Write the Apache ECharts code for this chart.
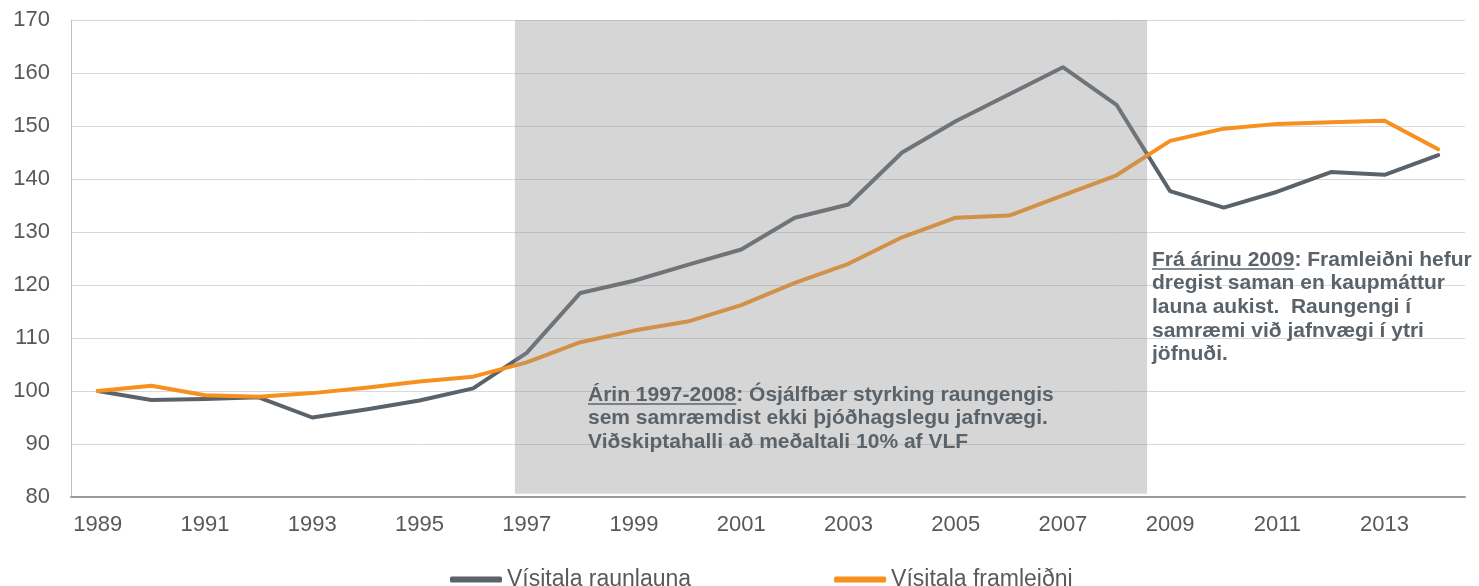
<!DOCTYPE html>
<html>
<head>
<meta charset="utf-8">
<script src="https://cdn.jsdelivr.net/npm/echarts@6/dist/echarts.min.js"></script>
<style>
  html, body { margin: 0; padding: 0; background: #fff; }
  #chart { width: 1479px; height: 586px; }
</style>
</head>
<body>
<div id="chart"></div>
<script>
// years on the x axis
var years = [];
for (var y = 1989; y <= 2014; y++) years.push(String(y));

// Vísitala raunlauna (grey)
var raunlaun = [100, 98.3, 98.5, 98.8, 95.0, 96.5, 98.2, 100.5, 107.2, 118.5,
  120.8, 123.8, 126.7, 132.7, 135.2, 145.0, 150.9, 156.0, 161.1, 154.0,
  137.7, 134.6, 137.6, 141.3, 140.8, 144.5];

// Vísitala framleiðni (orange)
var framleidni = [100, 101.0, 99.2, 98.9, 99.6, 100.6, 101.8, 102.7, 105.4, 109.2,
  111.4, 113.1, 116.2, 120.4, 124.0, 129.0, 132.7, 133.1, 136.9, 140.7,
  147.2, 149.5, 150.4, 150.7, 151.0, 145.6];

// shaded period, in fractional years
var shadeFrom = 1996.78;
var shadeTo = 2008.57;

var note1Head = 'Árin 1997-2008';
var note1 = note1Head + ': Ósjálfbær styrking raungengis\nsem samræmdist ekki þjóðhagslegu jafnvægi.\nViðskiptahalli að meðaltali 10% af VLF';
var note2Head = 'Frá árinu 2009';
var note2 = note2Head + ': Framleiðni hefur\ndregist saman en kaupmáttur\nlauna aukist.  Raungengi í\nsamræmi við jafnvægi í ytri\njöfnuði.';

var txtColor = '#5b636a';
var noteFont = 'bold 21px "Liberation Sans", Arial, sans-serif';

function textWidth(str, font) {
  var c = document.createElement('canvas').getContext('2d');
  c.font = font;
  return c.measureText(str).width;
}

function note(text, head, left, top) {
  var w = textWidth(head, noteFont);
  return [
    {
      type: 'text', left: left, top: top, z: 100,
      style: { text: text, font: noteFont, fill: txtColor, lineHeight: 23.7 }
    },
    {
      type: 'line', z: 100,
      shape: { x1: left, y1: top + 21, x2: left + w, y2: top + 21 },
      style: { stroke: txtColor, lineWidth: 1.5 }
    }
  ];
}

var myChart = echarts.init(document.getElementById('chart'));

var option = {
  animation: false,
  backgroundColor: '#fff',
  grid: { left: 71, right: 14, top: 20, bottom: 89 },
  legend: {
    left: 445, top: 563,
    icon: 'roundRect', itemWidth: 52, itemHeight: 6, itemGap: 143,
    textStyle: { fontFamily: '"Liberation Sans", Arial', fontSize: 23, color: '#595959' },
    data: ['Vísitala raunlauna', 'Vísitala framleiðni']
  },
  xAxis: [
    {
      type: 'category', data: years, boundaryGap: true,
      axisLine: { lineStyle: { color: '#999', width: 2 } },
      axisTick: { show: false },
      axisLabel: { interval: 1, margin: 17, color: '#595959', fontSize: 22, fontFamily: '"Liberation Sans", Arial' }
    },
    { type: 'value', min: 1988.5, max: 2014.5, show: false }
  ],
  yAxis: {
    type: 'value', min: 80, max: 170, interval: 10,
    axisLine: { show: true, lineStyle: { color: '#bfbfbf', width: 1 } },
    axisTick: { show: false },
    axisLabel: { margin: 21, color: '#595959', fontSize: 22, fontFamily: '"Liberation Sans", Arial' },
    splitLine: { lineStyle: { color: '#d9d9d9', width: 1 } }
  },
  series: [
    {
      name: 'Vísitala raunlauna', type: 'line', data: raunlaun,
      symbol: 'none', z: 3, color: '#5b636a',
      lineStyle: { width: 4, color: '#5b636a', cap: 'round', join: 'round' }
    },
    {
      name: 'Vísitala framleiðni', type: 'line', data: framleidni,
      symbol: 'none', z: 3, color: '#f7901e',
      lineStyle: { width: 4, color: '#f7901e', cap: 'round', join: 'round' }
    },
    {
      // translucent grey band laid over the lines
      name: 'shade', type: 'line', xAxisIndex: 1, data: [], z: 20,
      markArea: {
        silent: true, z: 20,
        itemStyle: { color: 'rgba(146,146,146,0.376)' },
        data: [[{ xAxis: shadeFrom, yAxis: 170 }, { xAxis: shadeTo, yAxis: 80.6 }]]
      }
    }
  ],
  graphic: note(note1, note1Head, 588, 383).concat(note(note2, note2Head, 1152, 248))
};

myChart.setOption(option);
</script>
</body>
</html>
